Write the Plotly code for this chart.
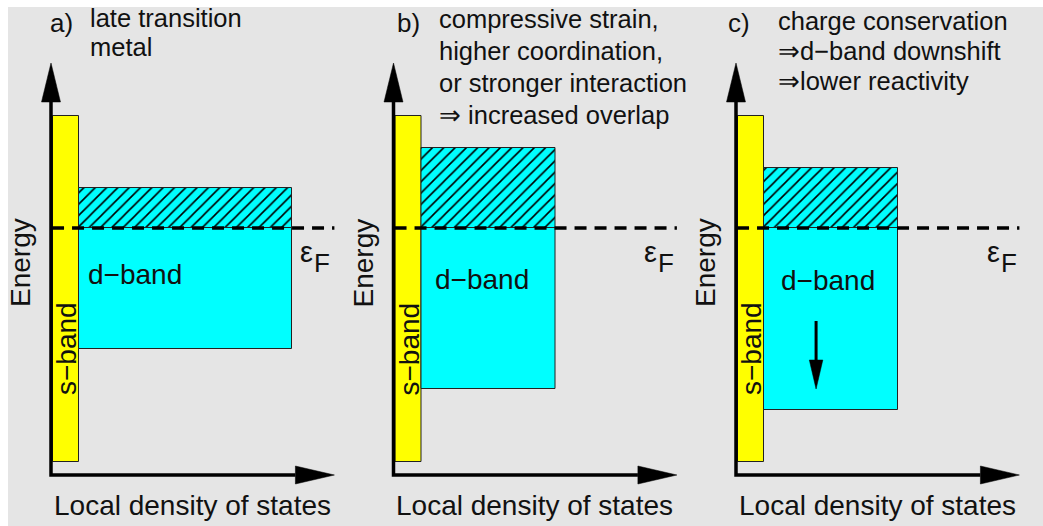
import plotly.graph_objects as go

# ---- band model for the three panels (energies relative to the Fermi level, DOS in arbitrary units)
panel_tags = ["a)", "b)", "c)"]
panel_notes = [
    ["late transition", "metal"],
    ["compressive strain,", "higher coordination,", "or stronger interaction", "⇒ increased overlap"],
    ["charge conservation", "⇒d−band downshift", "⇒lower reactivity"],
]
fermi_level = 0.0
s_band_left = [0.06, 0.06, 0.06]
s_band_right = [1.06, 1.06, 1.06]
s_band_top = [2.8, 2.8, 2.8]
s_band_bottom = [-5.85, -5.85, -5.85]
d_band_right = [9.27, 6.22, 6.22]
d_band_top = [1.0, 2.0, 1.5]
d_band_bottom = [-3.025, -4.025, -4.55]
# downshift arrow drawn in panel c: DOS position, start energy, end energy
shift_dos = 3.08
shift_from = -2.325
shift_to = -4.025

# ---- page geometry
W, H = 1043, 526
PX_PER_E = 40.0
E_TOP = 5.7
E_RANGE = [E_TOP - H / PX_PER_E, E_TOP]
PX_PER_DOS = 26.0
ORIGIN_PX = [51.0, 393.5, 736.0]
DOMAIN_PX = [(0.0, 342.5), (342.5, 685.0), (685.0, float(W))]
XAXES = ["x", "x2", "x3"]

E_AXIS = -6.175       # energy level of the horizontal axis
Y_TIP, Y_HEAD = 4.125, 3.15
X_TIP, X_HEAD = 10.9, 9.4
HEAD_HALF_U = 0.365
HEAD_HALF_E = 0.225

INK = "#111111"
FONT = "Liberation Sans, Arial, Helvetica, sans-serif"

# placement of the panel captions (pixels)
TAG_X = [48, 395, 726]
NOTE_X = [88, 437, 776]
NOTE_Y0 = [18, 19, 21]
NOTE_GAP = [29, 32, 30]


def paper(xpx, ypx):
    return xpx / W, 1 - ypx / H


fig = go.Figure()

for i, xa in enumerate(XAXES):
    # s-band
    fig.add_trace(go.Bar(
        x=[(s_band_left[i] + s_band_right[i]) / 2], width=[s_band_right[i] - s_band_left[i]],
        base=[s_band_bottom[i]], y=[s_band_top[i] - s_band_bottom[i]],
        xaxis=xa, yaxis="y",
        marker=dict(color="#ffff00", line=dict(color="#222222", width=1)),
        hoverinfo="skip", showlegend=False,
    ))
    # occupied part of the d-band
    fig.add_trace(go.Bar(
        x=[(s_band_right[i] + d_band_right[i]) / 2], width=[d_band_right[i] - s_band_right[i]],
        base=[d_band_bottom[i]], y=[fermi_level - d_band_bottom[i]],
        xaxis=xa, yaxis="y",
        marker=dict(color="#00ffff", line=dict(color="#222222", width=1)),
        hoverinfo="skip", showlegend=False,
    ))
    # empty part above the Fermi level (hatched)
    fig.add_trace(go.Bar(
        x=[(s_band_right[i] + d_band_right[i]) / 2], width=[d_band_right[i] - s_band_right[i]],
        base=[fermi_level], y=[d_band_top[i] - fermi_level],
        xaxis=xa, yaxis="y",
        marker=dict(color="#00ffff", line=dict(color="#222222", width=1),
                    pattern=dict(shape="/", fillmode="replace", bgcolor="#00ffff",
                                 fgcolor="#000000", size=8, solidity=0.2)),
        hoverinfo="skip", showlegend=False,
    ))

shapes = []
annotations = []

# background panel
shapes.append(dict(type="rect", xref="paper", yref="paper", x0=8 / W, x1=1, y0=0, y1=1 - 7 / H,
                   fillcolor="#e5e5e5", line=dict(width=0), layer="below"))

for i, xa in enumerate(XAXES):
    # axes with arrow heads
    shapes.append(dict(type="path", xref=xa, yref="y",
                       path=f"M 0,{Y_HEAD} L 0,{E_AXIS} L {X_HEAD},{E_AXIS}",
                       line=dict(color="#000000", width=3.5)))
    shapes.append(dict(type="path", xref=xa, yref="y",
                       path=f"M {-HEAD_HALF_U},{Y_HEAD} L 0,{Y_TIP} L {HEAD_HALF_U},{Y_HEAD} Z",
                       fillcolor="#000000", line=dict(color="#000000", width=0.5)))
    shapes.append(dict(type="path", xref=xa, yref="y",
                       path=f"M {X_HEAD},{E_AXIS - HEAD_HALF_E} L {X_TIP},{E_AXIS} "
                            f"L {X_HEAD},{E_AXIS + HEAD_HALF_E} Z",
                       fillcolor="#000000", line=dict(color="#000000", width=0.5)))
    # Fermi level
    shapes.append(dict(type="line", xref=xa, yref="y", x0=0.04, x1=X_TIP, y0=fermi_level, y1=fermi_level,
                       line=dict(color="#000000", width=3.5, dash="12px,8px")))

    off = ORIGIN_PX[i] - ORIGIN_PX[0]

    # axis titles
    x, y = paper(192 + off, 505)
    annotations.append(dict(text="Local density of states", x=x, y=y, xref="paper", yref="paper",
                            xanchor="center", yanchor="middle", showarrow=False,
                            font=dict(size=28, color=INK, family=FONT)))
    x, y = paper(20 + off, 263)
    annotations.append(dict(text="Energy", x=x, y=y, xref="paper", yref="paper", textangle=-90,
                            xanchor="center", yanchor="middle", showarrow=False,
                            font=dict(size=28, color=INK, family=FONT)))
    # band labels
    x, y = paper(66 + off, 349)
    annotations.append(dict(text="s−band", x=x, y=y, xref="paper", yref="paper", textangle=-90,
                            xanchor="center", yanchor="middle", showarrow=False,
                            font=dict(size=28, color=INK, family=FONT)))
    dx = [135, 482, 828][i]
    dy = [274, 279, 280][i]
    x, y = paper(dx, dy)
    annotations.append(dict(text="d−band", x=x, y=y, xref="paper", yref="paper",
                            xanchor="center", yanchor="middle", showarrow=False,
                            font=dict(size=28, color=INK, family=FONT)))
    # Fermi energy label
    ex = [298, 642, 985][i]
    x, y = paper(ex, 252)
    annotations.append(dict(text="ε", x=x, y=y, xref="paper", yref="paper",
                            xanchor="left", yanchor="middle", showarrow=False,
                            font=dict(size=29, color=INK, family=FONT)))
    x, y = paper(ex + 14, 263)
    annotations.append(dict(text="F", x=x, y=y, xref="paper", yref="paper",
                            xanchor="left", yanchor="middle", showarrow=False,
                            font=dict(size=26, color=INK, family=FONT)))
    # panel tag and note lines
    x, y = paper(TAG_X[i], 23)
    annotations.append(dict(text=panel_tags[i], x=x, y=y, xref="paper", yref="paper",
                            xanchor="left", yanchor="middle", showarrow=False,
                            font=dict(size=26, color=INK, family=FONT)))
    for k, line in enumerate(panel_notes[i]):
        x, y = paper(NOTE_X[i], NOTE_Y0[i] + k * NOTE_GAP[i])
        annotations.append(dict(text=line, x=x, y=y, xref="paper", yref="paper",
                                xanchor="left", yanchor="middle", showarrow=False,
                                font=dict(size=25.5, color=INK, family=FONT)))

# d-band downshift arrow in panel c
head_len = 0.725
shapes.append(dict(type="line", xref="x3", yref="y", x0=shift_dos, x1=shift_dos,
                   y0=shift_from, y1=shift_to + head_len,
                   line=dict(color="#000000", width=3)))
shapes.append(dict(type="path", xref="x3", yref="y",
                   path=f"M {shift_dos - 0.26},{shift_to + head_len} L {shift_dos},{shift_to} "
                        f"L {shift_dos + 0.26},{shift_to + head_len} Z",
                   fillcolor="#000000", line=dict(color="#000000", width=0.5)))

layout_axes = {}
for i, xa in enumerate(XAXES):
    d0, d1 = DOMAIN_PX[i]
    key = "xaxis" if xa == "x" else "xaxis" + xa[1:]
    layout_axes[key] = dict(
        domain=[d0 / W, d1 / W],
        range=[(d0 - ORIGIN_PX[i]) / PX_PER_DOS, (d1 - ORIGIN_PX[i]) / PX_PER_DOS],
        anchor="y", visible=False, fixedrange=True,
    )

fig.update_layout(
    width=W, height=H,
    margin=dict(l=0, r=0, t=0, b=0),
    paper_bgcolor="#ffffff",
    plot_bgcolor="rgba(0,0,0,0)",
    barmode="overlay",
    bargap=0,
    showlegend=False,
    yaxis=dict(domain=[0, 1], range=E_RANGE, visible=False, fixedrange=True),
    shapes=shapes,
    annotations=annotations,
    **layout_axes,
)

fig.write_html("out.html", config={"displayModeBar": False})
